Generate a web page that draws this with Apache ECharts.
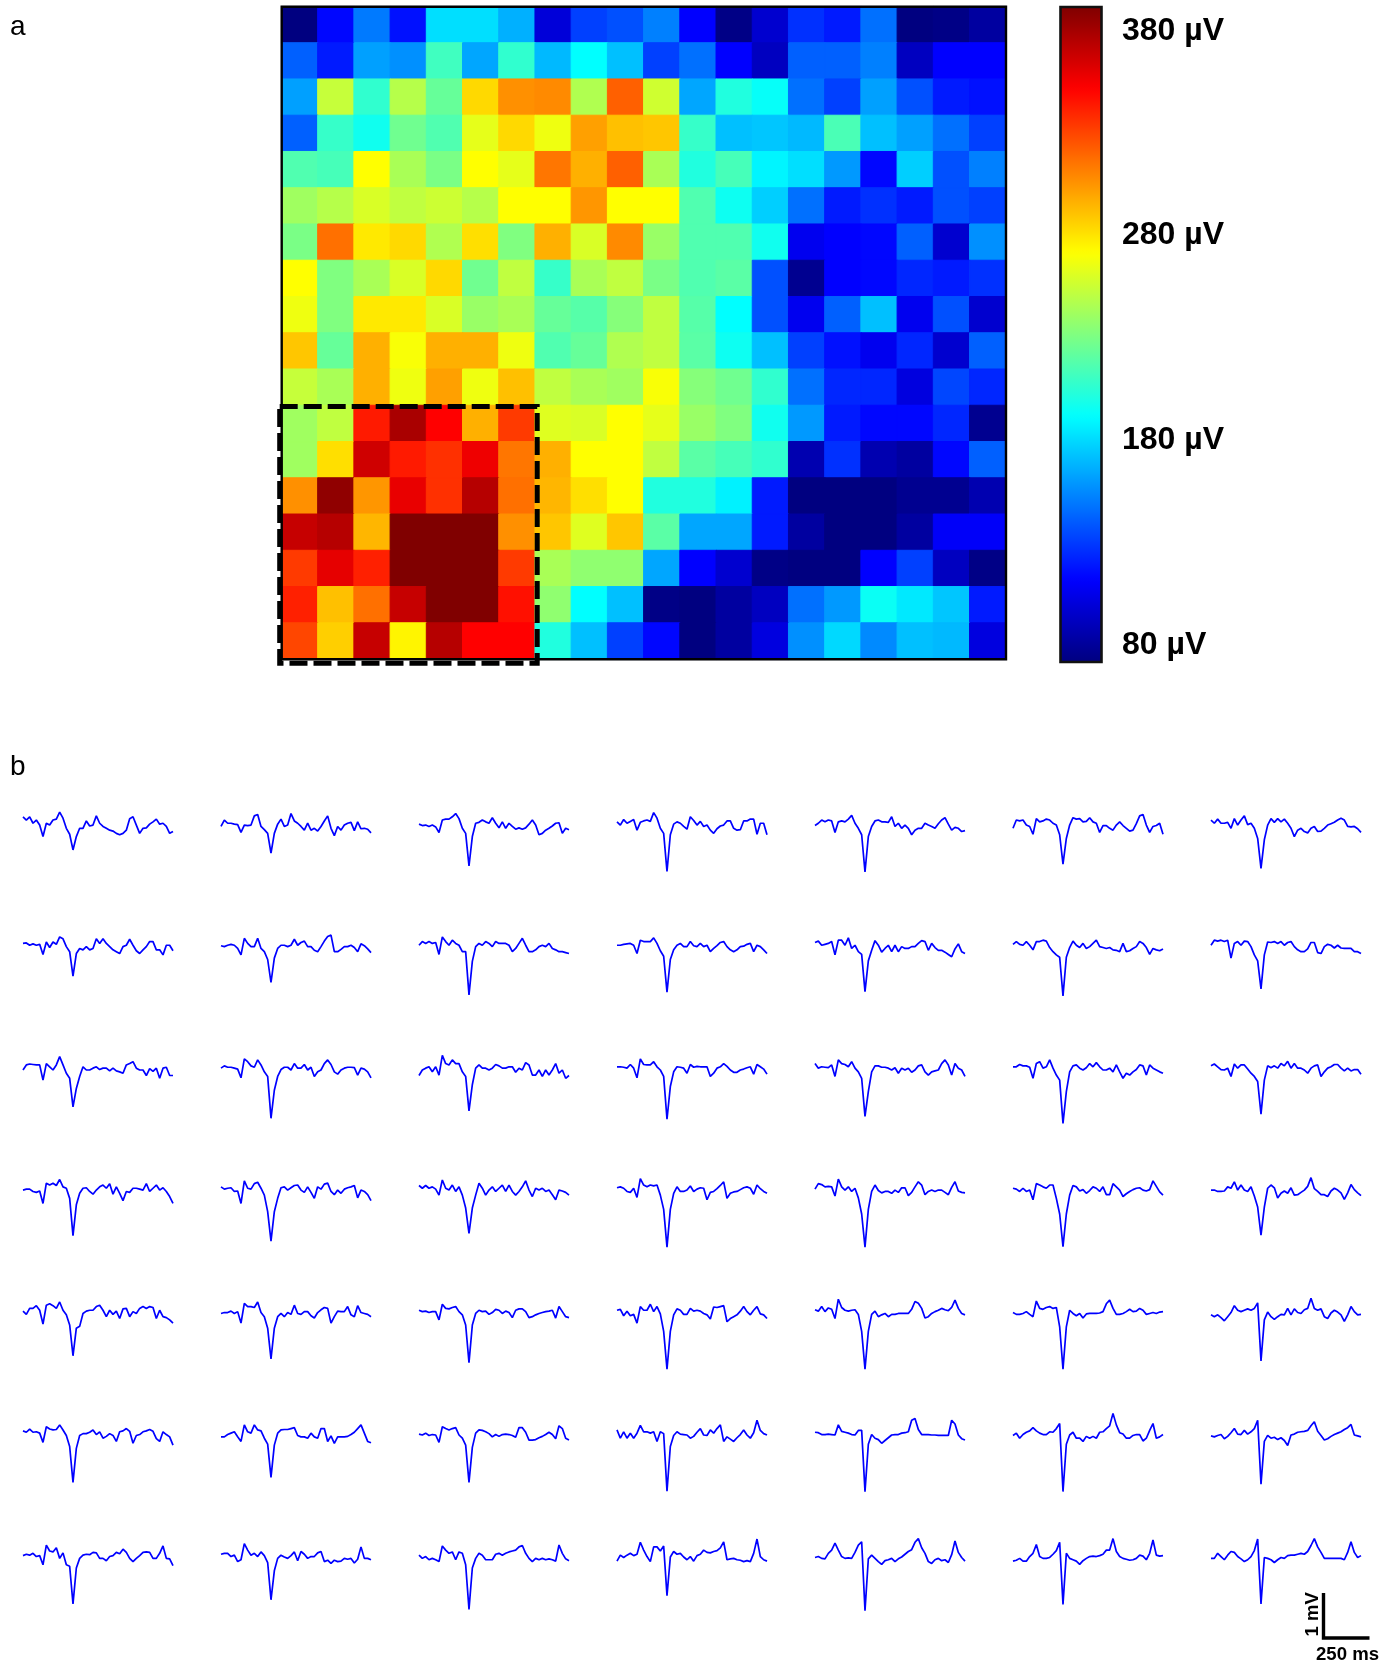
<!DOCTYPE html>
<html>
<head>
<meta charset="utf-8">
<style>html,body{margin:0;padding:0;background:#fff}#chart{width:1381px;height:1661px}</style>
<script src="https://cdn.jsdelivr.net/npm/echarts@6/dist/echarts.min.js"></script>
</head>
<body>
<div id="chart"></div>
<script>
// Panel a: amplitude per electrode, microvolts, top row first
const amp0  = [70,112,148,115,180,180,165,98,130,135,150,110,72,95,125,118,145,70,72,80];
const amp1  = [140,118,160,155,210,162,205,168,190,170,130,145,110,90,140,140,150,90,110,110];
const amp2  = [160,252,205,247,222,282,305,307,245,320,255,162,200,192,145,130,160,135,118,115];
const amp3  = [140,207,195,225,215,262,282,265,300,290,288,207,170,172,168,213,170,160,145,130];
const amp4  = [215,212,270,243,228,270,262,313,295,320,243,200,212,187,180,158,112,175,135,150];
const amp5  = [240,247,258,250,254,247,270,270,303,270,270,215,194,175,145,118,125,118,135,130];
const amp6  = [228,315,277,282,245,280,230,295,258,307,238,215,215,195,105,110,112,140,95,155];
const amp7  = [270,230,243,258,282,225,250,207,243,250,228,215,218,135,75,110,112,122,118,125];
const amp8  = [265,230,277,277,258,238,243,222,217,232,250,217,190,135,105,140,170,105,135,95];
const amp9  = [288,222,295,268,295,295,265,215,222,245,250,218,194,170,130,115,105,122,95,140];
const amp10 = [252,243,295,265,300,265,290,250,243,240,268,232,225,205,145,122,122,100,132,122];
const amp11 = [240,250,342,377,350,295,332,260,258,270,262,238,230,195,158,118,112,112,122,75];
const amp12 = [240,280,365,342,335,355,313,295,270,270,250,218,212,205,85,125,85,80,112,140];
const amp13 = [305,385,303,357,335,373,315,293,280,270,200,200,186,118,70,70,70,75,75,85];
const amp14 = [368,373,293,390,390,390,305,288,260,288,218,162,162,118,80,70,70,80,108,108];
const amp15 = [332,358,340,390,390,390,332,243,235,235,162,110,95,72,70,70,110,130,90,72];
const amp16 = [340,290,315,368,390,390,345,235,190,170,72,70,80,90,145,158,193,183,172,118];
const amp17 = [328,285,368,273,373,350,350,200,170,130,112,70,80,100,155,178,153,170,168,100];
const ampRows = [amp0,amp1,amp2,amp3,amp4,amp5,amp6,amp7,amp8,amp9,amp10,amp11,amp12,amp13,amp14,amp15,amp16,amp17];
const columnNames = ampRows[0].map((_, i) => String(i + 1));
const rowNames = ampRows.map((_, i) => String(i + 1));
const colorbarTicks = [80, 180, 280, 380];
const jetColors = ['#000080','#0000ff','#0080ff','#00ffff','#80ff80','#ffff00','#ff8000','#ff0000','#800000'];
// Outlined block of electrodes: first column, first row, last column, last row
const outlinedBlock = [0, 11, 6, 17];

// Panel b: waveform per electrode, in 0.01 mV, 46 samples each
const w0_0 = [20,13,20,6,13,2,-23,6,2,13,15,30,17,-5,-18,-52,-23,-5,-5,11,0,2,22,6,-1,-5,-9,-11,-16,-19,-16,-9,16,20,2,-16,-5,-4,4,9,15,4,6,-1,-16,-12];
const w0_1 = [-1,13,6,6,4,3,-14,2,1,2,22,25,-1,-8,-16,-59,-16,4,15,-1,2,27,11,6,-1,-9,6,-9,-5,-11,-1,11,22,-5,-21,-1,-9,2,6,8,-10,9,-6,-5,-7,-15];
const w0_2 = [4,1,2,-1,2,-2,-14,13,15,15,20,27,16,-5,-16,-87,-23,6,8,13,9,6,18,6,-4,9,-5,6,-1,-7,-4,-7,-4,4,13,2,-19,-16,-9,-5,0,6,7,-16,-5,-8];
const w0_3 = [9,2,14,6,10,14,-9,8,11,13,10,29,17,-5,-16,-99,-19,4,9,6,-1,-7,20,12,2,10,-1,2,-9,-16,-6,0,2,11,11,-5,-9,-8,11,11,15,15,-18,6,6,-19];
const w0_4 = [1,6,13,9,13,11,-14,9,11,9,15,23,6,-5,-19,-100,-23,-1,11,13,9,9,8,20,-1,6,-5,2,-5,-19,-9,-5,-5,6,2,-1,-5,5,13,18,4,-9,-3,-5,-12,-10];
const w0_5 = [-5,13,11,13,2,-1,-18,16,9,11,15,13,6,2,-19,-83,-27,2,18,15,16,9,10,18,9,6,-14,1,1,-5,-9,2,9,1,-5,-11,-9,5,22,25,2,-14,-1,1,6,-18];
const w0_6 = [13,6,15,6,6,8,-5,16,2,13,22,3,6,-5,-27,-92,-30,2,16,8,16,9,15,6,-5,-23,-9,-5,-12,-15,-5,-1,-12,-11,-5,2,5,8,13,17,13,-1,-2,-1,-6,-14];
const w1_0 = [10,11,6,9,6,8,-14,13,1,13,8,24,20,3,-8,-61,-12,-1,-4,3,-4,-1,20,10,20,10,3,-4,-8,-12,3,6,19,6,-6,-12,-4,3,14,14,-4,-4,-15,6,6,-6];
const w1_1 = [5,3,6,8,6,-1,-15,21,10,3,3,21,-1,-8,-25,-75,-22,-1,6,6,3,6,19,6,12,15,3,3,-5,-8,3,15,25,28,-8,-8,-3,3,3,6,1,-8,9,5,-2,-10];
const w1_2 = [6,14,10,14,10,12,-14,24,14,6,17,10,6,-8,-8,-102,-29,3,10,6,14,10,3,14,10,10,10,6,-8,-1,10,21,6,-8,-8,-4,3,6,3,10,-1,-4,-8,-8,-10,-12];
const w1_3 = [6,6,8,9,10,6,-12,17,14,14,14,22,10,-6,-18,-96,-25,-4,6,10,3,3,14,5,3,10,3,6,-8,-1,5,12,14,3,-4,-8,-4,3,4,8,10,-8,6,3,-4,-12];
const w1_4 = [12,15,6,8,10,14,-15,17,17,6,22,-1,6,-8,-14,-95,-28,-5,16,6,-9,-1,6,-8,6,-8,3,-1,-1,3,3,10,16,14,-5,10,1,-5,-5,-9,-14,-19,-2,9,-8,-12];
const w1_5 = [8,14,8,6,14,6,-4,14,14,17,15,1,-8,-15,-20,-104,-20,1,15,6,1,10,-1,3,10,17,3,1,-1,1,-4,-5,-8,10,-8,-6,-1,3,14,10,1,-14,-1,-4,-6,-2];
const w1_6 = [6,17,15,17,14,17,-22,10,14,6,15,14,3,-15,-28,-89,-15,13,12,14,10,14,6,12,14,3,-4,-8,-8,-2,12,12,-10,-12,3,8,6,0,6,0,-1,-1,-1,-8,-8,-12];
const w2_0 = [0,11,13,12,11,11,-22,14,7,0,11,29,11,-7,-18,-80,-40,-14,7,0,0,4,7,1,4,4,-2,4,-2,-4,-7,11,14,18,4,0,0,-12,3,-3,4,-18,4,6,-12,-12];
const w2_1 = [4,9,6,6,4,2,-17,24,18,9,6,22,11,-4,-14,-105,-44,-14,1,6,6,0,14,4,4,12,0,6,-14,-4,0,14,22,12,-4,-9,0,4,6,6,5,-11,4,2,-4,-17];
const w2_2 = [-12,0,4,7,-4,7,-11,32,14,11,22,14,14,-4,-14,-89,-32,4,11,4,4,0,4,12,9,4,4,7,7,-5,4,0,16,11,-11,-11,0,-14,0,-11,0,14,-7,0,-18,-12];
const w2_3 = [7,7,6,4,12,4,-17,24,12,11,11,18,7,0,-14,-107,-36,-4,7,6,4,-7,12,6,8,7,7,7,-14,-7,4,7,14,8,0,-5,-5,0,2,5,7,-9,12,7,2,-9];
const w2_4 = [14,4,7,6,5,11,-14,22,14,12,7,18,4,-4,-18,-101,-47,-4,9,9,6,6,4,0,5,-7,4,0,4,-5,0,9,11,-4,-11,-4,-2,0,14,22,11,-11,14,4,0,-14];
const w2_5 = [7,7,12,9,9,6,-18,14,18,4,7,22,4,-11,-22,-116,-47,-4,9,11,4,0,5,14,7,16,7,0,0,4,-4,11,-4,-18,-7,-11,-4,1,11,9,-11,11,4,0,-4,-7];
const w2_6 = [9,13,7,1,0,4,-14,13,4,11,11,2,-7,-14,-25,-96,-22,9,5,9,4,14,9,19,4,14,4,4,0,-7,4,9,11,-14,-4,4,7,12,12,4,-2,4,-2,1,1,-9];
const w3_0 = [2,4,4,-1,-3,0,-27,17,13,17,12,25,9,6,-16,-97,-30,-5,6,7,-1,-7,2,9,13,6,16,-7,9,-5,-21,-1,-3,6,6,4,2,16,-1,6,13,2,7,-1,-12,-27];
const w3_1 = [9,4,6,7,-1,0,-27,22,6,4,16,19,6,-9,-45,-109,-45,-16,7,9,2,7,12,13,2,-3,9,-3,-16,9,4,15,17,-1,-8,2,-5,4,7,9,12,-15,2,-1,-8,-21];
const w3_2 = [12,6,12,6,9,4,-9,24,6,2,13,-1,9,-9,-37,-92,-37,-9,17,6,-9,2,9,-1,6,13,-1,13,-1,-9,-1,9,22,2,-12,6,2,6,-1,2,-8,-19,2,0,-3,-9];
const w3_3 = [7,9,6,-1,-3,6,-14,27,13,9,13,11,13,-9,-40,-122,-40,-5,9,-1,-1,2,11,-1,4,7,6,-19,-3,-1,5,12,20,-16,-5,-2,-1,3,7,9,6,-7,13,5,-1,-5];
const w3_4 = [4,16,14,9,10,9,-11,26,9,2,9,-1,6,-15,-50,-122,-40,-1,13,1,-4,-1,-1,-5,2,-3,7,7,-10,-3,9,20,13,-8,-1,2,-1,2,2,-3,-8,8,20,0,-3,-4];
const w3_5 = [6,4,-1,6,-1,2,-19,16,13,9,6,13,13,-16,-50,-121,-50,-9,12,9,0,3,-5,1,9,6,-1,9,-8,-8,16,9,2,-12,-6,-1,3,6,7,2,0,3,22,10,-2,-9];
const w3_6 = [2,2,-1,-1,0,9,6,20,2,13,2,-1,9,-11,-35,-96,-35,6,13,7,-15,-5,0,-5,7,-9,-8,-3,2,10,29,5,-1,-8,-8,-12,0,6,2,-4,-18,-4,14,3,-4,-10];
const w4_0 = [4,-3,10,10,16,6,-24,17,20,16,10,24,6,-4,-26,-93,-33,-29,-1,4,6,6,14,17,6,-8,6,-3,4,-12,9,10,-8,3,-1,10,14,10,14,12,-12,6,-8,-10,-15,-22];
const w4_1 = [-1,1,1,4,-1,3,-22,21,14,14,12,24,1,-8,-33,-100,-33,-8,-1,-8,1,-3,17,-1,-3,3,3,-6,-11,1,7,12,10,-22,-8,4,3,3,14,-4,-8,16,1,-1,-3,-8];
const w4_2 = [6,3,4,1,3,3,-15,19,10,9,12,14,3,-4,-26,-108,-26,-1,6,3,4,-3,1,8,6,-1,4,1,-10,6,9,9,3,-10,-8,-4,-1,1,3,4,6,-11,14,3,-8,-10];
const w4_3 = [6,8,-6,4,-6,-3,-22,14,6,6,19,3,14,-2,-40,-122,-40,-4,9,6,-3,-3,10,4,6,4,-1,-4,-13,13,12,14,16,-19,-12,-8,-4,4,14,3,-4,6,14,-2,-4,-12];
const w4_4 = [7,4,14,3,11,8,-12,30,12,6,4,6,7,-3,-40,-122,-40,-3,4,-8,-4,-1,-8,-3,-3,-1,-1,-1,-1,8,25,21,10,-11,-8,-1,3,6,10,7,5,12,28,10,-1,-4];
const w4_5 = [1,-3,-3,-1,3,-3,-8,26,10,8,12,14,10,12,-30,-122,-30,6,-1,-6,-1,-11,-2,-1,-1,-1,0,3,20,28,10,-3,-3,-1,3,8,3,4,10,6,-3,-1,1,-1,2,3];
const w4_6 = [-4,-8,-4,-10,-17,-8,1,16,6,3,6,9,6,10,22,-104,-15,2,-8,-14,-8,-3,-4,10,-4,9,1,-1,7,10,32,10,6,9,-8,-12,0,6,2,-4,-18,-4,14,3,-4,-3];
const w5_0 = [9,6,13,6,7,4,-16,18,13,11,12,22,11,-1,-25,-103,-29,-1,3,3,6,11,1,7,-7,-3,3,-1,-14,7,9,14,8,-18,-1,1,7,9,12,8,-8,-14,7,1,-4,-22];
const w5_1 = [-4,-4,1,4,7,-4,-14,22,7,4,22,11,9,-7,-20,-92,-22,4,11,12,12,14,16,-1,-4,-4,-7,4,-4,-7,14,14,-14,-2,-18,-4,-4,-4,-3,1,6,14,22,4,-14,-17];
const w5_2 = [2,0,4,-1,1,0,-16,18,14,11,14,16,0,-7,-22,-103,-27,4,11,10,7,3,-4,1,-3,1,2,1,-1,-5,16,16,6,-11,-11,-10,-6,-3,1,6,1,-8,20,14,-7,-11];
const w5_3 = [11,-7,7,-7,4,-7,4,21,7,7,4,7,-14,7,3,-122,-25,-1,7,2,1,0,-7,-3,6,14,0,-1,11,4,14,22,-14,-4,-9,-14,-6,1,11,0,-7,5,32,10,3,0];
const w5_4 = [6,5,1,1,2,1,0,22,8,6,4,1,0,10,10,-123,-20,1,-7,-10,-18,-12,-6,0,1,1,4,5,7,32,36,12,1,1,1,0,0,-1,-1,-1,-1,32,24,0,-8,-11];
const w5_5 = [-1,4,-7,1,6,9,16,9,4,1,1,7,6,14,25,-123,-20,0,6,-7,-7,-14,-3,-7,-3,-7,6,7,14,20,47,22,5,2,-7,-7,-1,1,1,-13,-7,10,25,-7,-4,1];
const w5_6 = [-2,-4,-1,1,-8,-3,5,14,2,1,10,2,7,14,32,-107,-14,-1,-7,-5,-10,-6,-12,-23,0,2,6,7,8,10,20,29,8,-1,-11,-8,-3,1,4,7,12,16,23,0,-2,-4];
const w6_0 = [3,6,4,8,1,3,-17,26,13,11,20,-3,9,-17,-20,-102,-24,-3,4,6,5,10,9,-3,-3,-8,1,3,10,7,17,10,-3,-10,-3,3,10,11,10,-3,-3,8,24,-3,-4,-19];
const w6_1 = [6,8,8,1,4,-10,-6,29,15,4,8,1,11,3,-12,-93,-30,-3,4,0,-3,3,11,-8,12,6,-3,1,1,9,12,-10,-7,-14,-7,-10,-9,-3,-5,-3,-13,-5,22,-3,-3,-6];
const w6_2 = [4,-3,1,-6,-3,-6,-10,24,15,8,11,-6,11,8,-17,-114,-24,-3,8,4,-6,-6,-6,6,8,4,8,11,13,15,22,25,8,-3,-10,-3,-6,-3,-6,-4,-6,-9,26,8,-4,-8];
const w6_3 = [-9,4,-1,4,8,3,6,32,15,1,-10,22,22,13,24,-84,0,12,6,8,0,-6,1,-9,3,6,15,10,9,12,14,20,33,-6,-4,-3,-6,-7,-10,-8,-10,8,39,1,-6,-9];
const w6_4 = [-1,1,-3,-4,8,15,30,15,1,-3,-2,-3,10,26,33,-117,-4,4,-3,-10,-16,-8,-6,-3,-10,-4,0,6,12,16,32,40,20,8,-10,-14,-6,-3,-8,-6,-12,5,35,10,-1,-9];
const w6_5 = [-9,-7,-3,-9,-9,1,8,27,1,-3,-3,-1,6,14,32,-103,8,-3,-6,-9,-16,-8,-3,1,2,1,3,6,15,15,40,12,1,-3,-5,-7,-6,-3,4,2,-6,8,37,4,2,3];
const w6_6 = [-3,-3,8,1,-6,4,12,10,1,-4,-10,-6,1,14,39,-102,-1,-3,-6,-12,-6,-1,-3,3,4,4,6,8,6,12,25,40,22,10,-3,-3,-3,-3,-3,-3,-6,10,33,10,-1,3];
const waveforms = [
  [w0_0,w0_1,w0_2,w0_3,w0_4,w0_5,w0_6],
  [w1_0,w1_1,w1_2,w1_3,w1_4,w1_5,w1_6],
  [w2_0,w2_1,w2_2,w2_3,w2_4,w2_5,w2_6],
  [w3_0,w3_1,w3_2,w3_3,w3_4,w3_5,w3_6],
  [w4_0,w4_1,w4_2,w4_3,w4_4,w4_5,w4_6],
  [w5_0,w5_1,w5_2,w5_3,w5_4,w5_5,w5_6],
  [w6_0,w6_1,w6_2,w6_3,w6_4,w6_5,w6_6]
];
const scaleBarMs = 250;
const scaleBarMv = 1;

const FONT = '"Liberation Sans", Arial, sans-serif';
const ampMin = 70, ampMax = 390;
const panelLefts = [23, 221, 419, 617, 815, 1013, 1211];
const panelBaselines = [826, 948, 1070, 1191, 1313, 1435, 1557];
const pxPerUnit = 0.46;
const unitsUp = 50, unitsDown = 130;

const grid = [
  {left: 281.7, top: 6.7, width: 724.3, height: 652.6, show: true, z: 10, backgroundColor: 'transparent', borderColor: '#000', borderWidth: 2.4},
  // colorbar frame
  {left: 1060.5, top: 7, width: 41, height: 655, show: true, z: 10, backgroundColor: 'transparent', borderColor: '#111', borderWidth: 2.6},
  {left: 1323.5, top: 1593, width: 46, height: 45},
  // colorbar tick labels, set a few pixels lower so the digits sit level with the reference
  {left: 1060.5, top: 10.5, width: 41, height: 655}
];
const xAxis = [
  {type: 'category', gridIndex: 0, data: columnNames, show: false},
  {type: 'value', gridIndex: 1, min: 0, max: 1, show: false},
  {type: 'value', gridIndex: 2, min: 0, max: scaleBarMs, show: false},
  {type: 'value', gridIndex: 3, min: 0, max: 1, show: false}
];
const yAxis = [
  {type: 'category', gridIndex: 0, data: rowNames, inverse: true, show: false},
  {type: 'value', gridIndex: 1, min: ampMin, max: ampMax, show: false},
  {type: 'value', gridIndex: 2, min: 0, max: scaleBarMv, show: false},
  {type: 'value', gridIndex: 3, min: ampMin, max: ampMax, position: 'right',
   axisLine: {show: false}, axisTick: {show: false}, splitLine: {show: false},
   axisLabel: {show: true, customValues: colorbarTicks, margin: 20.5, formatter: '{value} µV',
     fontFamily: FONT, fontWeight: 'bold', fontSize: 32, color: '#000'}}
];
const series = [
  {type: 'heatmap', xAxisIndex: 0, yAxisIndex: 0, progressive: 0,
   data: ampRows.flatMap((row, r) => row.map((v, c) => ({
     value: [c, r, v],
     itemStyle: {borderWidth: 1, borderColor: echarts.color.lerp((v - ampMin) / (ampMax - ampMin), jetColors)}
   }))),
   emphasis: {disabled: true}},
  {type: 'custom', xAxisIndex: 0, yAxisIndex: 0, clip: false, z: 5, silent: true,
   data: [outlinedBlock], encode: {x: [0, 2], y: [1, 3]},
   renderItem: function (params, api) {
     const a = api.coord([api.value(0), api.value(1)]);
     const b = api.coord([api.value(2), api.value(3)]);
     const s = api.size([1, 1]);
     const x0 = a[0] - s[0] / 2 - 2, y0 = a[1] - s[1] / 2 + 1;
     const x1 = b[0] + s[0] / 2 + 2, y1 = b[1] + s[1] / 2 + 4;
     return {type: 'rect', shape: {x: x0, y: y0, width: x1 - x0, height: y1 - y0},
       style: {fill: null, stroke: '#000', lineWidth: 5, lineDash: [18, 6]}};
   }},
  {type: 'line', xAxisIndex: 2, yAxisIndex: 2, showSymbol: false, silent: true, clip: false,
   data: [[0, scaleBarMv], [0, 0], [scaleBarMs, 0]],
   lineStyle: {color: '#000', width: 3.4, cap: 'butt', join: 'miter'}}
];
waveforms.forEach((row, r) => row.forEach((values, c) => {
  const idx = grid.length;
  grid.push({left: panelLefts[c], top: panelBaselines[r] - unitsUp * pxPerUnit,
             width: 150, height: (unitsUp + unitsDown) * pxPerUnit});
  xAxis.push({type: 'value', gridIndex: idx, min: 0, max: values.length - 1, show: false});
  yAxis.push({type: 'value', gridIndex: idx, min: -unitsDown, max: unitsUp, show: false});
  series.push({type: 'line', xAxisIndex: idx, yAxisIndex: idx, showSymbol: false, silent: true,
    clip: false, data: values.map((v, i) => [i, v]),
    lineStyle: {color: '#0000ff', width: 1.7}});
}));

const chart = echarts.init(document.getElementById('chart'), null, {renderer: 'canvas'});
chart.setOption({
  animation: false,
  backgroundColor: '#fff',
  tooltip: {show: false},
  title: [
    {text: 'a', left: 10, top: 13, padding: 0, textStyle: {fontFamily: FONT, fontWeight: 'normal', fontSize: 28, color: '#000'}},
    {text: 'b', left: 10, top: 753, padding: 0, textStyle: {fontFamily: FONT, fontWeight: 'normal', fontSize: 28, color: '#000'}}
  ],
  grid, xAxis, yAxis, series,
  visualMap: [{
    type: 'continuous', seriesIndex: [0], min: ampMin, max: ampMax, show: true, calculable: false,
    hoverLink: false, left: 1060.5, top: 7, padding: 0, itemWidth: 41, itemHeight: 655,
    text: null, inRange: {color: jetColors}
  }],
  graphic: [
    {type: 'text', left: 1303, top: 1592, rotation: Math.PI / 2, silent: true,
     style: {text: '1 mV', x: 0, y: 0, font: 'bold 18.6px ' + FONT, fill: '#000'}},
    {type: 'text', left: 1316, top: 1645, silent: true,
     style: {text: '250 ms', font: 'bold 18.6px ' + FONT, fill: '#000'}}
  ]
});
</script>
</body>
</html>
